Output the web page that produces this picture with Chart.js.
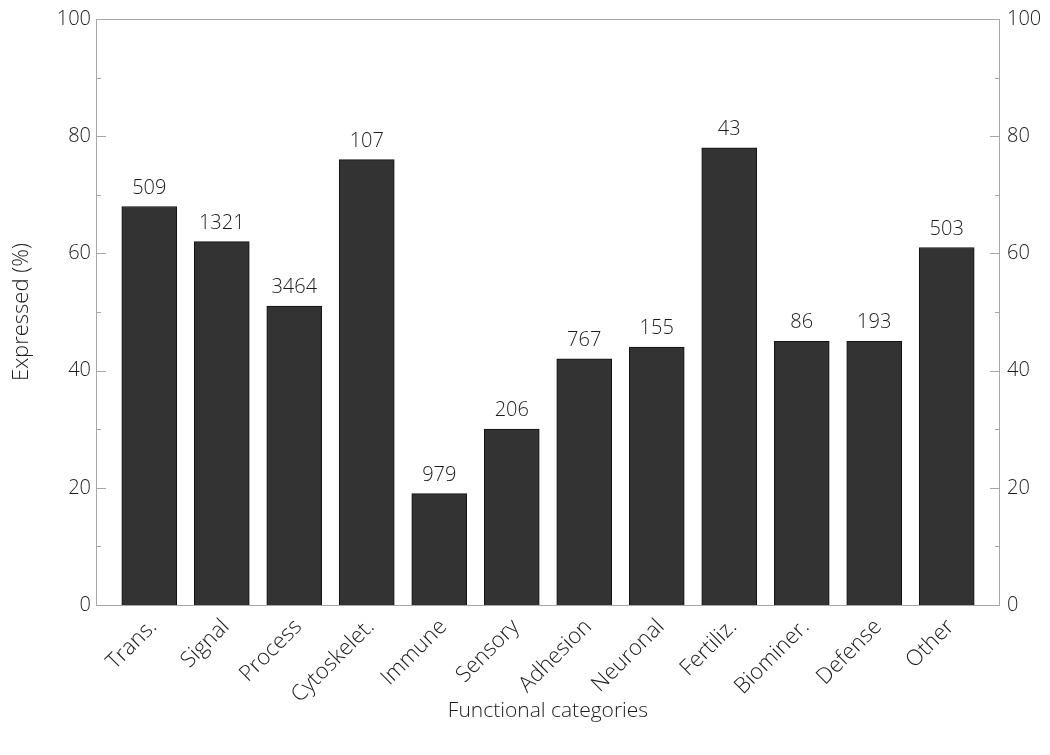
<!DOCTYPE html>
<html>
<head>
<meta charset="utf-8">
<script src="https://cdn.jsdelivr.net/npm/chart.js@4.4.1/dist/chart.umd.min.js"></script>
<style>
  html, body { margin: 0; padding: 0; background: #ffffff; }
  #wrap { width: 1050px; height: 755px; }
</style>
</head>
<body>
<div id="wrap"><canvas id="chart" width="1050" height="755"></canvas></div>
<script>
// Functional categories of genes
const categories = ['Trans.', 'Signal', 'Process', 'Cytoskelet.', 'Immune', 'Sensory',
                    'Adhesion', 'Neuronal', 'Fertiliz.', 'Biominer.', 'Defense', 'Other'];
// Share of genes expressed in each category (%)
const expressedPct = [68, 62, 51, 76, 19, 30, 42, 44, 78, 45, 45, 61];
// Number of genes in each category (printed above the bars)
const geneCounts = [509, 1321, 3464, 107, 979, 206, 767, 155, 43, 86, 193, 503];
// Y axis ticks
const yTickValues = [0, 20, 40, 60, 80, 100];

const FONT = 'Open Sans';
const WEIGHT = 300;
const TEXT = '#1c1c1c';
const FRAME = '#a6a6a6';

// Frame, inward major/minor ticks and count labels
const decorations = {
  id: 'decorations',
  afterDatasetsDraw(chart) {
    const { ctx, chartArea: a } = chart;
    ctx.save();
    ctx.strokeStyle = FRAME;
    ctx.lineWidth = 1;
    ctx.strokeRect(Math.round(a.left) + 0.5, Math.round(a.top) + 0.5,
                   Math.round(a.right - a.left) - 1, Math.round(a.bottom - a.top));
    const yl = chart.scales.y;
    for (let v = 0; v <= 100; v += 10) {
      const py = Math.round(yl.getPixelForValue(v)) + 0.5;
      const len = (v % 20 === 0) ? 10 : 5;
      ctx.beginPath();
      ctx.moveTo(a.left, py); ctx.lineTo(a.left + len, py);
      ctx.moveTo(a.right, py); ctx.lineTo(a.right - len, py);
      ctx.stroke();
    }
    // counts above bars
    const meta = chart.getDatasetMeta(0);
    ctx.fillStyle = TEXT;
    ctx.font = WEIGHT + ' 20px "' + FONT + '"';
    ctx.textAlign = 'center';
    ctx.textBaseline = 'alphabetic';
    meta.data.forEach((bar, i) => {
      ctx.fillText(String(geneCounts[i]), bar.x, bar.y - 13);
    });
    ctx.restore();
  }
};

const tickFont = { family: FONT, size: 20, weight: WEIGHT };

new Chart(document.getElementById('chart'), {
  type: 'bar',
  data: {
    datasets: [{
      data: expressedPct.map((v, i) => ({ x: i, y: v })),
      backgroundColor: '#333333',
      borderColor: '#111111',
      borderWidth: 1,
      barThickness: 55
    }]
  },
  options: {
    responsive: false,
    animation: false,
    events: [],
    layout: { padding: { top: 18, left: 12, right: 0, bottom: 0 } },
    plugins: {
      legend: { display: false },
      tooltip: { enabled: false }
    },
    scales: {
      x: {
        type: 'linear',
        offset: false,
        min: -0.735,
        max: 11.735,
        afterBuildTicks: (s) => { s.ticks = categories.map((_, i) => ({ value: i })); },
        afterFit: (s) => { s.height = 150; },
        grid: { display: false, drawTicks: false, offset: false },
        border: { display: false },
        ticks: {
          autoSkip: false,
          minRotation: 45,
          maxRotation: 45,
          padding: 9,
          labelOffset: 4,
          color: TEXT,
          font: { family: FONT, size: 22, weight: WEIGHT },
          callback: (v) => categories[v]
        },
        title: {
          display: true,
          text: 'Functional categories',
          color: TEXT,
          font: { family: FONT, size: 21, weight: WEIGHT, lineHeight: 1.2 },
          padding: { top: 0, bottom: 31 }
        }
      },
      y: {
        position: 'left',
        min: 0,
        max: 100,
        afterBuildTicks: (s) => { s.ticks = yTickValues.map(v => ({ value: v })); },
        afterFit: (s) => { s.width = 84; },
        grid: { display: false, drawTicks: false },
        border: { display: false },
        ticks: { padding: 5, color: TEXT, font: tickFont },
        title: {
          display: true,
          text: 'Expressed (%)',
          color: TEXT,
          font: { family: FONT, size: 22, weight: WEIGHT, lineHeight: 0.91 },
          padding: { top: 0, bottom: 0 }
        }
      },
      y2: {
        position: 'right',
        min: 0,
        max: 100,
        afterBuildTicks: (s) => { s.ticks = yTickValues.map(v => ({ value: v })); },
        afterFit: (s) => { s.width = 50; },
        grid: { display: false, drawTicks: false },
        border: { display: false },
        ticks: { padding: 7, color: TEXT, font: tickFont }
      }
    }
  },
  plugins: [decorations]
});
</script>
</body>
</html>
